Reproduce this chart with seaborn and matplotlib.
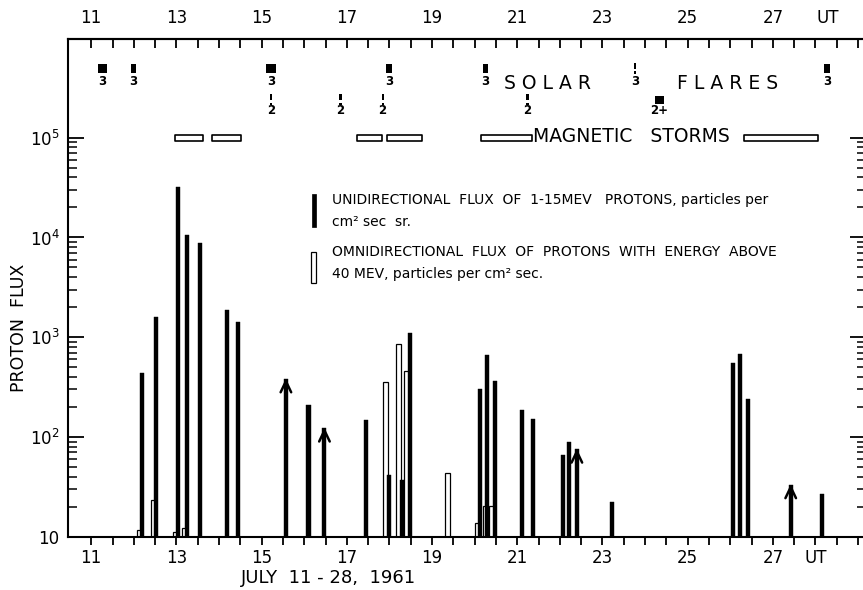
import numpy as np
import pandas as pd
import matplotlib
matplotlib.use("Agg")
import matplotlib.pyplot as plt
from matplotlib.path import Path
from matplotlib.ticker import FixedLocator, NullFormatter
import seaborn as sns

# ---------------- data ----------------
# Unidirectional flux of 1-15 MeV protons (black bars)
uni_day = [12.185, 12.525, 13.04, 13.24, 13.55, 14.18, 14.45, 15.57, 16.10, 16.475,
           17.46, 17.99, 18.29, 18.48, 20.13, 20.30, 20.47, 21.115, 21.375, 22.08,
           22.22, 22.40, 23.23, 26.07, 26.24, 26.42, 27.42, 28.16]
uni_flux = [435, 1590, 32000, 10600, 8700, 1880, 1430, 380, 210, 122,
            148, 42, 37, 1100, 302, 660, 366, 186, 151, 66,
            90, 75, 22.4, 547, 673, 240, 33, 27]
# bars topped by an arrow (lower limits)
arrow_day = [15.57, 16.475, 22.40, 27.42]
arrow_flux = [380, 122, 75, 33]

# Omnidirectional flux of protons above 40 MeV (open bars)
omni_day = [12.13, 12.455, 12.98, 13.18, 17.91, 18.21, 18.41, 19.36, 20.07, 20.25, 20.40]
omni_flux = [11.7, 23.3, 11.2, 12.1, 353, 853, 458, 44, 13.6, 20.3, 20.3]

# Solar flares
flare_day = [11.27, 11.99, 15.22, 17.99, 20.26, 28.27, 23.77,
             15.22, 16.85, 17.84, 21.24, 24.335]
flare_class = ['3', '3', '3', '3', '3', '3', '3',
               '2', '2', '2', '2', '2+']
flare_symbol = ['wide', 'narrow', 'wide', 'narrow', 'narrow', 'narrow', 'bar',
                'bar', 'bar', 'bar', 'bar', 'wide']
flare_row = [1, 1, 1, 1, 1, 1, 1, 2, 2, 2, 2, 2]

# Magnetic storms
storm_start = [12.97, 13.83, 17.25, 17.95, 20.15, 26.32]
storm_end = [13.62, 14.51, 17.82, 18.77, 21.34, 28.05]

# Axis ticks / labels
day_ticks = [11, 13, 15, 17, 19, 21, 23, 25, 27, 28]
day_labels = ['11', '13', '15', '17', '19', '21', '23', '25', '27', 'UT']
flux_ticks = [10, 1e2, 1e3, 1e4, 1e5]
flux_labels = ['10', '$10^2$', '$10^3$', '$10^4$', '$10^5$']

legend_uni = ['UNIDIRECTIONAL  FLUX  OF  1-15MEV   PROTONS, particles per',
              'cm\u00b2 sec  sr.']
legend_omni = ['OMNIDIRECTIONAL  FLUX  OF  PROTONS  WITH  ENERGY  ABOVE',
               '40 MEV, particles per cm\u00b2 sec.']

# ---------------- style ----------------
sns.set_style("ticks")
plt.rcParams['font.family'] = ['DejaVu Sans']
plt.rcParams['mathtext.default'] = 'regular'
plt.rcParams['axes.linewidth'] = 1.5
for key in ['text.color', 'axes.labelcolor', 'xtick.color', 'ytick.color',
            'axes.edgecolor']:
    plt.rcParams[key] = 'black'

fig = plt.figure(figsize=(8.63, 5.90), dpi=100)
ax = fig.add_axes([68 / 863, (590 - 536.7) / 590, 798 / 863, 497.4 / 590])

uni_df = pd.DataFrame({'day': uni_day, 'flux': uni_flux})
omni_df = pd.DataFrame({'day': omni_day, 'flux': omni_flux})

def rel_width(days, target):
    d = np.diff(np.unique(days))
    return target / d.min()

sns.barplot(data=omni_df, x='day', y='flux', native_scale=True, orient='x',
            color='white', edgecolor='black', linewidth=0.9, saturation=1,
            errorbar=None, width=rel_width(omni_day, 0.12), ax=ax, zorder=2)
sns.barplot(data=uni_df, x='day', y='flux', native_scale=True, orient='x',
            color='black', edgecolor='black', linewidth=0.3, saturation=1,
            errorbar=None, width=rel_width(uni_day, 0.095), ax=ax, zorder=3)

ax.set_yscale('log')
ax.set_xlim(10.455, 10.455 + 798 / 42.6)
ax.set_ylim(10, 10 ** (1 + 497.4 / 99.75))

# arrows on lower-limit bars
for d, v in zip(arrow_day, arrow_flux):
    ax.annotate('', xy=(d, v * 1.02), xytext=(d, v / 1.6),
                arrowprops=dict(arrowstyle='->,head_length=0.8,head_width=0.38',
                                lw=1.8, color='black', shrinkA=0, shrinkB=0),
                zorder=4)

# magnetic storms
y0, y1 = 9.27e4, 1.065e5
ax.broken_barh([(s, e - s) for s, e in zip(storm_start, storm_end)], (y0, y1 - y0),
               facecolors='white', edgecolors='black', linewidth=1.2, zorder=3)
ax.text(23.69, 1.02e5, 'MAGNETIC   STORMS', ha='center', va='center', fontsize=13.5)

# solar flares
row_sym = {1: 4.94e5, 2: 2.40e5}
row_num = {1: 3.70e5, 2: 1.86e5}
wide_marker = [(-0.5, -0.45), (0.5, -0.45), (0.5, 0.45), (-0.5, 0.45)]
narrow_marker = [(-0.33, -0.5), (0.33, -0.5), (0.33, 0.5), (-0.33, 0.5)]
bang_marker = Path.make_compound_path(
    Path([(-0.1, -0.02), (0.1, -0.02), (0.1, 0.5), (-0.1, 0.5), (-0.1, -0.02)], closed=True),
    Path([(-0.1, -0.5), (0.1, -0.5), (0.1, -0.26), (-0.1, -0.26), (-0.1, -0.5)], closed=True))
fl = pd.DataFrame({'day': flare_day, 'cls': flare_class, 'sym': flare_symbol, 'row': flare_row})
fl['y'] = fl['row'].map(row_sym)
for sym, mk, size in [('wide', wide_marker, 44), ('narrow', narrow_marker, 36),
                      ('bar', bang_marker, 62)]:
    sub = fl[fl['sym'] == sym]
    sns.scatterplot(data=sub, x='day', y='y', marker=mk, s=size, color='black',
                    edgecolor='none', linewidth=0, ax=ax, zorder=4, legend=False)
for d, c, r in zip(flare_day, flare_class, flare_row):
    ax.text(d, row_num[r], c, ha='center', va='center', fontsize=8.5,
            fontweight='bold')
ax.text(21.70, 3.53e5, 'S O L A R', ha='center', va='center', fontsize=13.5)
ax.text(25.93, 3.53e5, 'F L A R E S', ha='center', va='center', fontsize=13.5)

# legend (drawn by hand, as in the original figure)
ax.add_patch(plt.Rectangle((0.3058, 0.6226), 0.0050, 0.0664, transform=ax.transAxes,
                           facecolor='black', edgecolor='black', lw=0.5))
ax.add_patch(plt.Rectangle((0.3045, 0.5100), 0.0060, 0.0624, transform=ax.transAxes,
                           facecolor='white', edgecolor='black', lw=0.9))
for txt, yy in zip(legend_uni + legend_omni, [0.677, 0.6333, 0.5718, 0.528]):
    ax.text(0.3304, yy, txt, transform=ax.transAxes, ha='left', va='center',
            fontsize=10)

# ---------------- axes, ticks ----------------
ax.set_xticks(day_ticks)
ax.set_xticklabels(day_labels)
ax.xaxis.set_minor_locator(FixedLocator(np.arange(11, 29.01, 0.5)))
ax.tick_params(axis='x', which='both', direction='out', length=5.5, width=1.3,
               top=False, bottom=True, pad=3.5, labelsize=12)

ax.yaxis.set_major_locator(FixedLocator(flux_ticks))
ax.set_yticklabels(flux_labels)
ax.yaxis.set_minor_locator(FixedLocator([m * 10.0 ** k for k in range(1, 5) for m in range(2, 10)]))
ax.yaxis.set_minor_formatter(NullFormatter())
ax.tick_params(axis='y', which='major', direction='in', length=11.5, width=1.3,
               left=True, right=True, labelsize=12, pad=6)
ax.tick_params(axis='y', which='minor', direction='in', length=6.5, width=1.1,
               left=True, right=True)

secax = ax.secondary_xaxis('top')
secax.xaxis.remove_overlapping_locs = False
secax.set_xticks(day_ticks[:-1] + [day_ticks[-1] + 0.3])
secax.set_xticklabels(day_labels)
secax.xaxis.set_minor_locator(FixedLocator(np.arange(11, 29.01, 0.5)))
secax.tick_params(which='major', length=0, pad=9, labelsize=12)
secax.tick_params(which='minor', direction='in', length=6.5, width=1.3)
secax.spines['top'].set_linewidth(1.5)

ax.set_xlabel('JULY  11 - 28,  1961', fontsize=13)
ax.xaxis.set_label_coords(0.327, -0.0646)
ax.set_ylabel('PROTON  FLUX', fontsize=12.5)
ax.yaxis.set_label_coords(-0.050, 0.4206)

for sp in ax.spines.values():
    sp.set_linewidth(1.5)

fig.savefig('out.png', dpi=100, facecolor='white')
